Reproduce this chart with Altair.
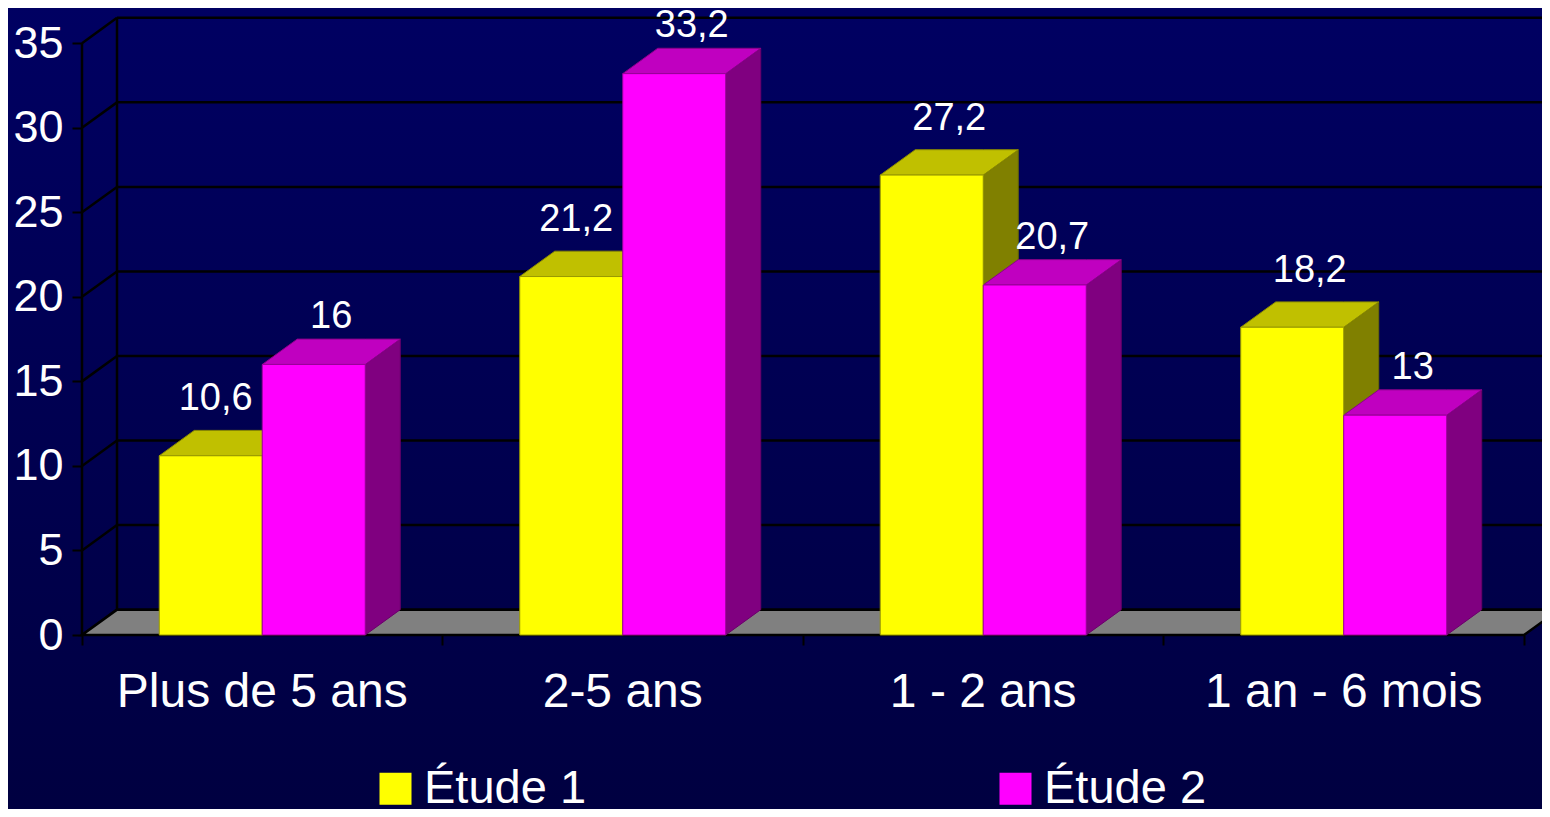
import altair as alt
import pandas as pd

# ---- data ----
categories = ["Plus de 5 ans", "2-5 ans", "1 - 2 ans", "1 an - 6 mois"]
studies = ["Étude 1", "Étude 2"]
etude1 = [10.6, 21.2, 27.2, 18.2]
etude2 = [16, 33.2, 20.7, 13]
y_ticks = [0, 5, 10, 15, 20, 25, 30, 35]

# ---- layout / style constants ----
W, H = 1460, 617
X_MIN, X_MAX = -0.5, 3.55
Y_MAX = 36.49
BAR_W = 0.2857
DX = 0.0971   # 3D depth along x (in category units)
DY = 1.5      # 3D depth along y (in value units)
FONT = "Liberation Sans"
front_col = {"Étude 1": "#FFFF00", "Étude 2": "#FF00FF"}

series = [etude1, etude2]
front_rows, top_rows, side_rows = [], [], []
for i, cat in enumerate(categories):
    for k, study in enumerate(studies):
        v = series[k][i]
        x0 = i - BAR_W + k * BAR_W
        x1 = x0 + BAR_W
        bar = f"{i}-{k}"
        # label nudged left when the neighbouring bar is taller
        shift = -0.035 if (k == 0 and series[1][i] > v) else 0.0
        front_rows.append(dict(cat=cat, study=study, v=v, x0=x0, x1=x1,
                               xl=(x0 + x1) / 2 + DX / 2 + shift, yl=v + DY))
        for xx, ya, yb in [(x0, v, v), (x0 + DX, v, v + DY),
                           (x1, v, v + DY), (x1 + DX, v + DY, v + DY)]:
            top_rows.append(dict(bar=bar, study=study, x=xx, y=ya, y2=yb))
        for xx, ya, yb in [(x1, 0, v), (x1 + DX, DY, v + DY)]:
            side_rows.append(dict(bar=bar, study=study, x=xx, y=ya, y2=yb))

front_df = pd.DataFrame(front_rows)
top_df = pd.DataFrame(top_rows)
side_df = pd.DataFrame(side_rows)
n = len(categories)
floor_df = pd.DataFrame(dict(
    x=[X_MIN, X_MIN + DX, n - 0.5, n - 0.5 + DX],
    y=[0, 0, 0, DY], y2=[0, DY, DY, DY]))
grid_df = pd.DataFrame(dict(t=y_ticks))
grid_df["tb"] = grid_df["t"] + DY
grid_df["xa"] = X_MIN
grid_df["xb"] = X_MIN + DX
grid_df["xe"] = n - 0.5 + DX
cat_df = pd.DataFrame(dict(ci=list(range(n)), cat=categories))

xscale = alt.Scale(domain=[X_MIN, X_MAX], nice=False, zero=False)
yscale = alt.Scale(domain=[0, Y_MAX], nice=False, zero=False)
xax = alt.Axis(values=[i - 0.5 for i in range(n + 1)], labels=False, domain=False,
               grid=False, tickSize=10, tickColor="black", tickWidth=2, title=None,
               zindex=1)
yax = alt.Axis(values=y_ticks, domain=False, grid=False, tickSize=10, tickColor="black",
               tickWidth=2, labelColor="white", labelFont=FONT, labelFontSize=45,
               labelPadding=9, title=None, zindex=1)


def X(f):
    return alt.X(f, type="quantitative", scale=xscale, axis=xax)


def Y(f):
    return alt.Y(f, type="quantitative", scale=yscale, axis=yax)


is1 = "datum.study == 'Étude 1'"

bg = alt.Chart(pd.DataFrame({"a": [0]})).mark_rect(
    fill=alt.Gradient(gradient="linear", x1=0, x2=0, y1=0, y2=1,
                      stops=[alt.GradientStop(color="#000062", offset=0),
                             alt.GradientStop(color="#000040", offset=1)])
).encode(x=alt.value(-80), x2=alt.value(W + 10), y=alt.value(-12), y2=alt.value(H + 190))

back_grid = alt.Chart(grid_df).mark_rule(color="black", strokeWidth=2.5).encode(
    x=X("xb"), x2="xe", y=Y("tb"))
side_grid = alt.Chart(grid_df).mark_rule(color="black", strokeWidth=2.5).encode(
    x=X("xa"), x2="xb", y=Y("t"), y2="tb")
back_edge = alt.Chart(pd.DataFrame(dict(x=[X_MIN + DX], a=[DY], b=[y_ticks[-1] + DY]))
                      ).mark_rule(color="black", strokeWidth=2.5).encode(x=X("x"), y=Y("a"), y2="b")
front_edge = alt.Chart(pd.DataFrame(dict(x=[X_MIN], a=[0], b=[y_ticks[-1]]))
                       ).mark_rule(color="black", strokeWidth=2.5).encode(x=X("x"), y=Y("a"), y2="b")

floor = alt.Chart(floor_df).mark_area(fill="#808080", stroke="black", strokeWidth=2.5,
                                      orient="vertical").encode(x=X("x"), y=Y("y"), y2="y2")

sides = alt.Chart(side_df).mark_area(orient="vertical", strokeWidth=1).encode(
    x=X("x"), y=Y("y"), y2="y2", detail="bar:N",
    fill=alt.condition(is1, alt.value("#808000"), alt.value("#800080")),
    stroke=alt.condition(is1, alt.value("#6A6A00"), alt.value("#6A006A")))

tops = alt.Chart(top_df).mark_area(orient="vertical", strokeWidth=1).encode(
    x=X("x"), y=Y("y"), y2="y2", detail="bar:N",
    fill=alt.condition(is1, alt.value("#C0C000"), alt.value("#C000C0")),
    stroke=alt.condition(is1, alt.value("#8A8A00"), alt.value("#8A008A")))

fronts = alt.Chart(front_df).mark_rect(strokeWidth=1).encode(
    x=X("x0"), x2="x1", y=Y("v"), y2=alt.datum(0),
    color=alt.Color("study:N",
                    scale=alt.Scale(domain=studies, range=[front_col[s] for s in studies]),
                    legend=alt.Legend(title=None, orient="none", legendX=290, legendY=747,
                                      direction="horizontal", symbolType="square",
                                      symbolSize=1024, symbolStrokeWidth=0,
                                      labelFontSize=47, labelColor="white", labelFont=FONT,
                                      labelOffset=5, columnPadding=405, padding=0,
                                      labelLimit=0)),
    stroke=alt.condition(is1, alt.value("#9A9A00"), alt.value("#9A009A")))

label_base = alt.Chart(front_df).transform_calculate(
    lab="replace(toString(datum.v), '.', ',')")
labels1 = label_base.transform_filter(is1).mark_text(
    color="white", font=FONT, fontSize=38, baseline="alphabetic", dy=-20).encode(
    x=X("xl"), y=Y("yl"), text="lab:N")
labels2 = label_base.transform_filter("!(" + is1 + ")").mark_text(
    color="white", font=FONT, fontSize=38, baseline="alphabetic", dy=-11).encode(
    x=X("xl"), y=Y("yl"), text="lab:N")

cat_labels = alt.Chart(cat_df).mark_text(color="white", font=FONT, fontSize=48,
                                         baseline="alphabetic").encode(
    x=X("ci"), y=alt.value(H + 72), text="cat:N")

chart = alt.layer(bg, back_grid, side_grid, back_edge, front_edge, floor, sides, tops,
                  fronts, labels1, labels2, cat_labels).properties(
    width=W, height=H,
    autosize=alt.AutoSizeParams(type="none"),
    padding={"left": 74, "top": 10, "right": 0, "bottom": 174},
    background="#00005C",
).configure_view(stroke=None)

chart.save("out.html", embed_options={"renderer": "svg", "actions": False})
